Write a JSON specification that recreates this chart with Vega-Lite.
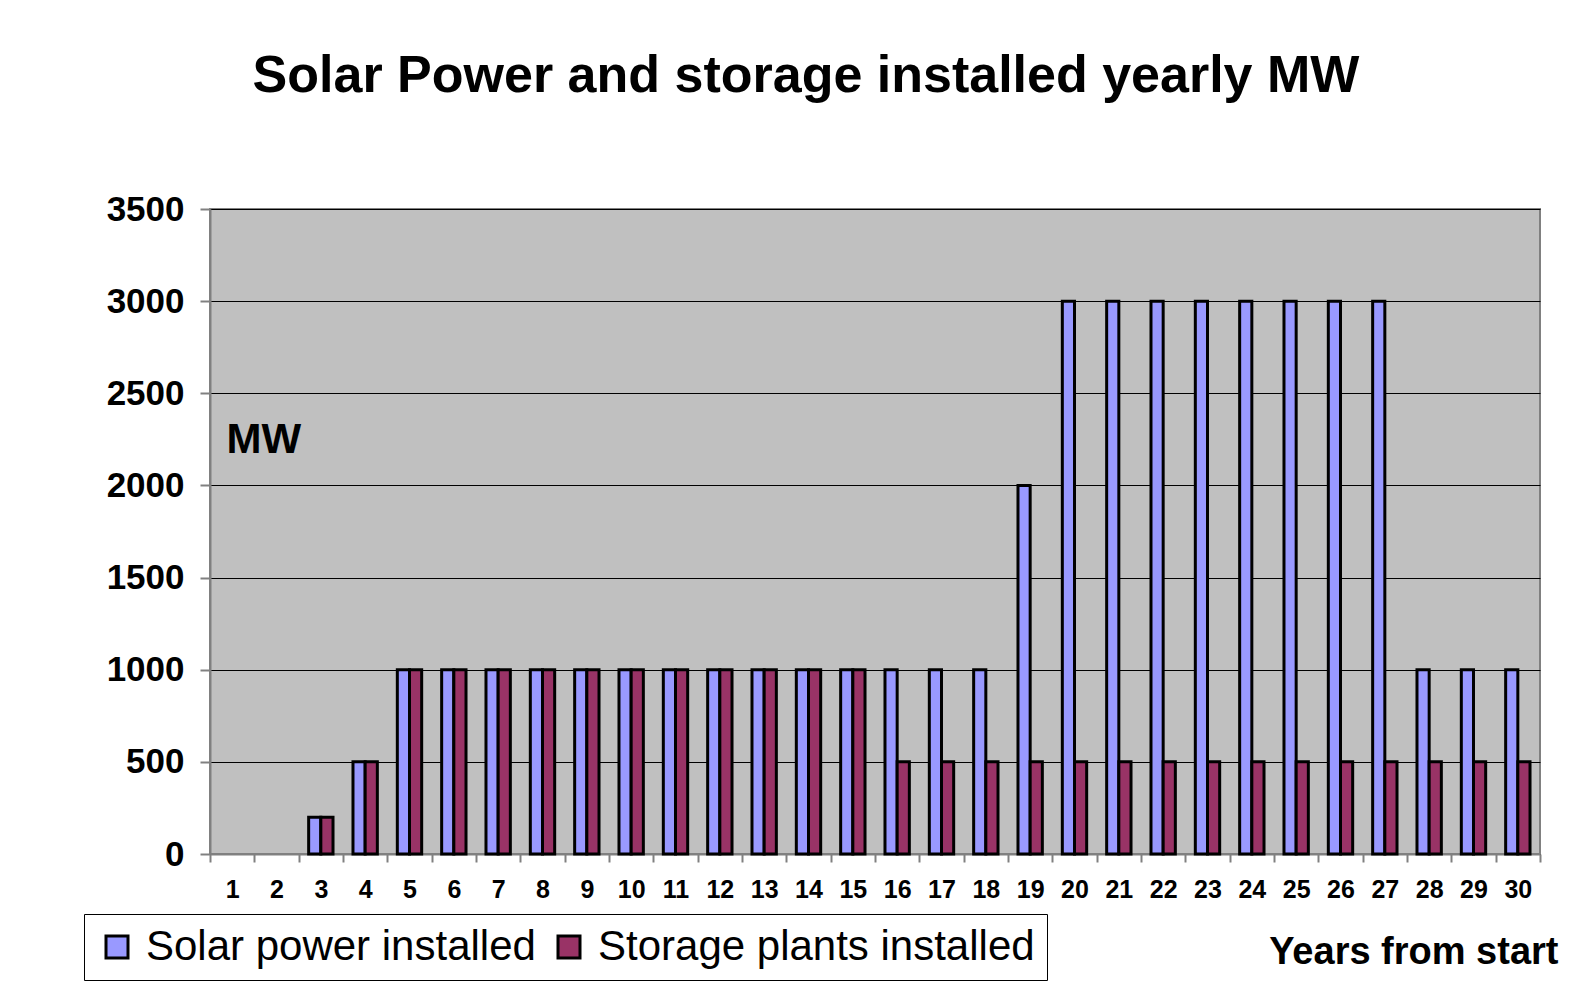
{
  "$schema": "https://vega.github.io/schema/vega-lite/v6.json",
  "autosize": "none",
  "width": 1330,
  "height": 645,
  "padding": {"left": 210, "top": 209, "right": 43, "bottom": 129},
  "background": "white",
  "title": {
    "text": "Solar Power and storage installed yearly MW",
    "font": "Liberation Sans",
    "fontSize": 52,
    "fontWeight": "bold",
    "color": "black",
    "anchor": "middle",
    "dx": -69,
    "offset": 89
  },
  "data": {
    "values": [
      {"year": 1, "series": "Solar power installed", "MW": 0},
      {"year": 2, "series": "Solar power installed", "MW": 0},
      {"year": 3, "series": "Solar power installed", "MW": 200},
      {"year": 4, "series": "Solar power installed", "MW": 500},
      {"year": 5, "series": "Solar power installed", "MW": 1000},
      {"year": 6, "series": "Solar power installed", "MW": 1000},
      {"year": 7, "series": "Solar power installed", "MW": 1000},
      {"year": 8, "series": "Solar power installed", "MW": 1000},
      {"year": 9, "series": "Solar power installed", "MW": 1000},
      {"year": 10, "series": "Solar power installed", "MW": 1000},
      {"year": 11, "series": "Solar power installed", "MW": 1000},
      {"year": 12, "series": "Solar power installed", "MW": 1000},
      {"year": 13, "series": "Solar power installed", "MW": 1000},
      {"year": 14, "series": "Solar power installed", "MW": 1000},
      {"year": 15, "series": "Solar power installed", "MW": 1000},
      {"year": 16, "series": "Solar power installed", "MW": 1000},
      {"year": 17, "series": "Solar power installed", "MW": 1000},
      {"year": 18, "series": "Solar power installed", "MW": 1000},
      {"year": 19, "series": "Solar power installed", "MW": 2000},
      {"year": 20, "series": "Solar power installed", "MW": 3000},
      {"year": 21, "series": "Solar power installed", "MW": 3000},
      {"year": 22, "series": "Solar power installed", "MW": 3000},
      {"year": 23, "series": "Solar power installed", "MW": 3000},
      {"year": 24, "series": "Solar power installed", "MW": 3000},
      {"year": 25, "series": "Solar power installed", "MW": 3000},
      {"year": 26, "series": "Solar power installed", "MW": 3000},
      {"year": 27, "series": "Solar power installed", "MW": 3000},
      {"year": 28, "series": "Solar power installed", "MW": 1000},
      {"year": 29, "series": "Solar power installed", "MW": 1000},
      {"year": 30, "series": "Solar power installed", "MW": 1000},
      {"year": 1, "series": "Storage plants installed", "MW": 0},
      {"year": 2, "series": "Storage plants installed", "MW": 0},
      {"year": 3, "series": "Storage plants installed", "MW": 200},
      {"year": 4, "series": "Storage plants installed", "MW": 500},
      {"year": 5, "series": "Storage plants installed", "MW": 1000},
      {"year": 6, "series": "Storage plants installed", "MW": 1000},
      {"year": 7, "series": "Storage plants installed", "MW": 1000},
      {"year": 8, "series": "Storage plants installed", "MW": 1000},
      {"year": 9, "series": "Storage plants installed", "MW": 1000},
      {"year": 10, "series": "Storage plants installed", "MW": 1000},
      {"year": 11, "series": "Storage plants installed", "MW": 1000},
      {"year": 12, "series": "Storage plants installed", "MW": 1000},
      {"year": 13, "series": "Storage plants installed", "MW": 1000},
      {"year": 14, "series": "Storage plants installed", "MW": 1000},
      {"year": 15, "series": "Storage plants installed", "MW": 1000},
      {"year": 16, "series": "Storage plants installed", "MW": 500},
      {"year": 17, "series": "Storage plants installed", "MW": 500},
      {"year": 18, "series": "Storage plants installed", "MW": 500},
      {"year": 19, "series": "Storage plants installed", "MW": 500},
      {"year": 20, "series": "Storage plants installed", "MW": 500},
      {"year": 21, "series": "Storage plants installed", "MW": 500},
      {"year": 22, "series": "Storage plants installed", "MW": 500},
      {"year": 23, "series": "Storage plants installed", "MW": 500},
      {"year": 24, "series": "Storage plants installed", "MW": 500},
      {"year": 25, "series": "Storage plants installed", "MW": 500},
      {"year": 26, "series": "Storage plants installed", "MW": 500},
      {"year": 27, "series": "Storage plants installed", "MW": 500},
      {"year": 28, "series": "Storage plants installed", "MW": 500},
      {"year": 29, "series": "Storage plants installed", "MW": 500},
      {"year": 30, "series": "Storage plants installed", "MW": 500}
    ]
  },
  "transform": [{"filter": "datum.MW > 0"}],
  "mark": {"type": "bar", "stroke": "black", "strokeWidth": 3, "opacity": 1},
  "encoding": {
    "x": {
      "field": "year",
      "type": "ordinal",
      "scale": {"domain": [1,2,3,4,5,6,7,8,9,10,11,12,13,14,15,16,17,18,19,20,21,22,23,24,25,26,27,28,29,30], "paddingInner": 0, "paddingOuter": 0},
      "axis": {
        "title": "Years from start",
        "titleFont": "Liberation Sans",
        "titleFontSize": 38,
        "titleFontWeight": "bold",
        "titleColor": "black",
        "titleAnchor": null,
        "titleAlign": "right",
        "titleBaseline": "middle",
        "titleX": 1348,
        "titleY": 98,
        "labelAngle": 0,
        "labelFont": "Liberation Sans",
        "labelFontSize": 25,
        "labelFontWeight": "bold",
        "labelColor": "black",
        "labelPadding": 15,
        "tickBand": "extent",
        "tickSize": 8,
        "tickColor": "#808080",
        "tickWidth": 2,
        "domainColor": "#808080",
        "domainWidth": 2,
        "grid": false
      }
    },
    "xOffset": {
      "field": "series",
      "type": "nominal",
      "scale": {"paddingInner": 0, "paddingOuter": 0.82}
    },
    "y": {
      "field": "MW",
      "type": "quantitative",
      "scale": {"domain": [0, 3500], "nice": false},
      "axis": {
        "values": [0, 500, 1000, 1500, 2000, 2500, 3000, 3500],
        "format": "d",
        "title": "MW",
        "titleFont": "Liberation Sans",
        "titleFontSize": 42,
        "titleFontWeight": "bold",
        "titleColor": "black",
        "titleAngle": 0,
        "titleAnchor": null,
        "titleAlign": "left",
        "titleBaseline": "middle",
        "titleX": 16,
        "titleY": 230,
        "labelFont": "Liberation Sans",
        "labelFontSize": 35,
        "labelFontWeight": "bold",
        "labelColor": "black",
        "labelPadding": 16,
        "tickSize": 10,
        "tickColor": "#808080",
        "tickWidth": 2,
        "domainColor": "#808080",
        "domainWidth": 2,
        "grid": true,
        "gridColor": "black",
        "gridWidth": 1,
        "gridOpacity": 1
      }
    },
    "color": {
      "field": "series",
      "type": "nominal",
      "scale": {"domain": ["Solar power installed", "Storage plants installed"], "range": ["#9999FF", "#993366"]},
      "legend": {
        "title": null,
        "orient": "none",
        "legendX": -126,
        "legendY": 705,
        "direction": "horizontal",
        "strokeColor": "black",
        "padding": 12,
        "symbolType": "square",
        "symbolSize": 484,
        "symbolStrokeColor": "black",
        "symbolStrokeWidth": 3,
        "symbolOpacity": 1,
        "labelFont": "Liberation Sans",
        "labelFontSize": 42,
        "labelColor": "black",
        "labelOffset": 8,
        "labelLimit": 600,
        "columnPadding": 12
      }
    }
  },
  "config": {
    "view": {"fill": "#C0C0C0", "stroke": "#808080", "strokeWidth": 2}
  }
}
